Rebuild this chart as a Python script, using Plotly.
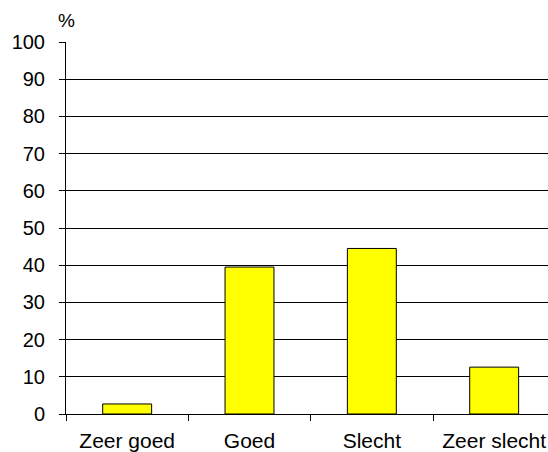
import plotly.graph_objects as go

categories = ["Zeer goed", "Goed", "Slecht", "Zeer slecht"]
percentages = [2.7, 39.5, 44.5, 12.6]

fig = go.Figure()

fig.add_trace(
    go.Bar(
        x=categories,
        y=percentages,
        marker={"color": "#ffff00", "line": {"color": "black", "width": 1}},
        width=0.4,
    )
)

# the "%" unit sits right above the y axis line
fig.add_annotation(
    text="%",
    xref="paper",
    yref="paper",
    x=0.0,
    y=1.059,
    xanchor="center",
    yanchor="middle",
    showarrow=False,
    font={"size": 19, "color": "black"},
)

fig.update_layout(
    width=548,
    height=452,
    margin={"l": 66, "r": 0, "t": 42, "b": 38},
    plot_bgcolor="white",
    paper_bgcolor="white",
    font={"family": "Liberation Sans, Arial, sans-serif", "size": 20, "color": "black"},
    showlegend=False,
    xaxis={
        # right edge cut off a little, like the original
        "range": [-0.5, 3.44],
        "automargin": False,
        "showline": True,
        "linecolor": "black",
        "linewidth": 1,
        "ticks": "outside",
        "tickson": "boundaries",
        "ticklen": 6,
        "tickcolor": "black",
        "tickfont": {"size": 21},
        "ticklabelstandoff": 8,
        "showgrid": False,
    },
    yaxis={
        "range": [0, 100],
        "dtick": 10,
        "automargin": False,
        "showline": True,
        "linecolor": "black",
        "linewidth": 1,
        "ticks": "outside",
        "ticklen": 6,
        "tickcolor": "black",
        "ticklabelstandoff": 10,
        "showgrid": True,
        "gridcolor": "black",
        "gridwidth": 1,
        "zeroline": False,
    },
)

# drop the default page margin so the figure fills the window exactly
fig.write_html(
    "out.html",
    config={"displayModeBar": False},
    post_script="document.body.style.margin='0';document.body.style.overflow='hidden';",
)
